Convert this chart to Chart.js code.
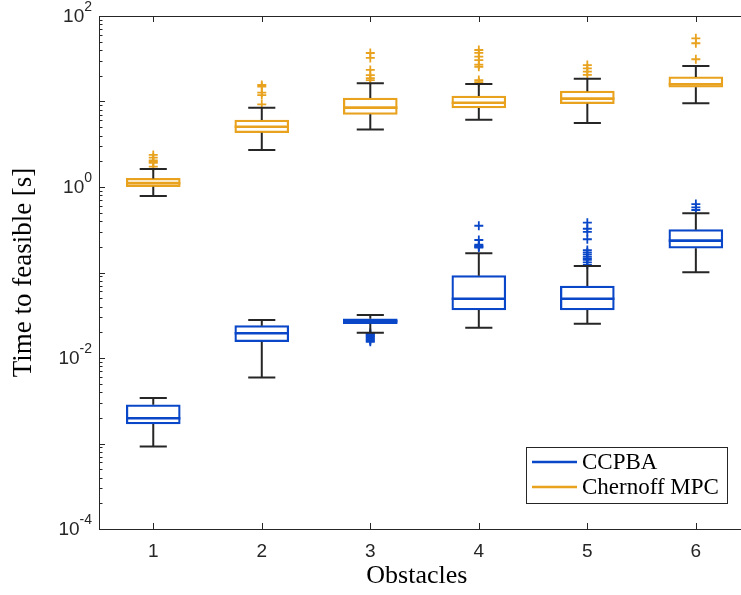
<!DOCTYPE html>
<html>
<head>
<meta charset="utf-8">
<script src="https://cdn.jsdelivr.net/npm/chart.js@4.4.0/dist/chart.umd.min.js"></script>
<style>
  html, body { margin: 0; padding: 0; background: #fff; }
  #wrap { width: 741px; height: 595px; }
</style>
</head>
<body>
<div id="wrap"><canvas id="c" width="741" height="595"></canvas></div>
<script>
const obstacles = [1, 2, 3, 4, 5, 6];
const yTicks = [1e-4, 1e-2, 1, 1e2];

// CCPBA (blau)
const ccpbaLow = [0.00092, 0.0059, 0.0198, 0.0226, 0.0252, 0.1005];
const ccpbaQ1 = [0.00169, 0.0155, 0.0252, 0.0364, 0.0364, 0.192];
const ccpbaMed = [0.00197, 0.0195, 0.0269, 0.0494, 0.0494, 0.236];
const ccpbaQ3 = [0.00284, 0.0239, 0.0288, 0.0918, 0.0695, 0.317];
const ccpbaHigh = [0.0034, 0.0278, 0.0318, 0.168, 0.119, 0.492];
const ccpbaOut = [
  [],
  [],
  [0.0196, 0.019, 0.0185, 0.018, 0.0175, 0.017, 0.0165, 0.016, 0.0155],
  [0.352, 0.24, 0.212, 0.205, 0.2, 0.196],
  [0.383, 0.325, 0.298, 0.245, 0.183, 0.172, 0.163, 0.153, 0.146, 0.141, 0.131, 0.123],
  [0.632, 0.578, 0.538]
];

// Chernoff MPC (orange)
const chernLow = [0.785, 2.71, 4.69, 6.12, 5.6, 9.53];
const chernQ1 = [1.01, 4.31, 7.08, 8.39, 9.43, 14.7];
const chernMed = [1.11, 5.07, 8.47, 9.68, 10.8, 15.9];
const chernQ3 = [1.26, 6.08, 11.0, 11.6, 13.2, 19.4];
const chernHigh = [1.62, 8.47, 16.3, 16.0, 18.5, 26.0];
const chernOut = [
  [2.37, 2.2, 2.05, 1.98, 1.92, 1.73],
  [15.6, 14.9, 12.7, 11.9, 9.27],
  [36.9, 32.3, 23.4, 20.4, 18.8, 17.8],
  [40, 37, 33.5, 30.5, 27, 25.5, 17.8, 16.8],
  [26.7, 24.4, 22.3, 20.5],
  [54.8, 48, 31.2]
];

const ccpbaColor = '#0a47c8';
const chernColor = '#e8a21e';
const axisColor = '#262626';
const boxHalf = 0.25;
const capHalf = 0.125;

const groups = [
  { name: 'CCPBA', color: ccpbaColor, low: ccpbaLow, q1: ccpbaQ1, med: ccpbaMed, q3: ccpbaQ3, high: ccpbaHigh, out: ccpbaOut },
  { name: 'Chernoff MPC', color: chernColor, low: chernLow, q1: chernQ1, med: chernMed, q3: chernQ3, high: chernHigh, out: chernOut }
];

const boxDatasets = groups.map(g => ({
  type: 'bar',
  label: g.name,
  data: obstacles.map((o, i) => ({ x: o, y: [g.q1[i], g.q3[i]] })),
  backgroundColor: 'rgba(255,255,255,0)',
  borderColor: g.color,
  borderWidth: 1.6,
  borderSkipped: false,
  barThickness: 54,
  grouped: false,
  order: 2
}));

const outlierDatasets = groups.map(g => ({
  type: 'scatter',
  label: g.name + ' outliers',
  data: g.out.flatMap((vals, i) => vals.map(v => ({ x: obstacles[i], y: v }))),
  pointStyle: 'cross',
  pointRadius: 4.5,
  borderWidth: 1.8,
  borderColor: g.color,
  backgroundColor: g.color,
  order: 1
}));

// whiskers, caps, medians
const boxParts = {
  id: 'boxParts',
  afterDatasetsDraw(chart) {
    const { ctx, scales: { x, y } } = chart;
    ctx.save();
    groups.forEach(g => {
      obstacles.forEach((o, i) => {
        const cx = x.getPixelForValue(o);
        ctx.strokeStyle = axisColor;
        ctx.lineWidth = 2;
        ctx.beginPath();
        ctx.moveTo(cx, y.getPixelForValue(g.q3[i]));
        ctx.lineTo(cx, y.getPixelForValue(g.high[i]));
        ctx.moveTo(cx, y.getPixelForValue(g.q1[i]));
        ctx.lineTo(cx, y.getPixelForValue(g.low[i]));
        ctx.moveTo(x.getPixelForValue(o - capHalf), y.getPixelForValue(g.high[i]));
        ctx.lineTo(x.getPixelForValue(o + capHalf), y.getPixelForValue(g.high[i]));
        ctx.moveTo(x.getPixelForValue(o - capHalf), y.getPixelForValue(g.low[i]));
        ctx.lineTo(x.getPixelForValue(o + capHalf), y.getPixelForValue(g.low[i]));
        ctx.stroke();
        ctx.strokeStyle = g.color;
        ctx.lineWidth = 2.6;
        ctx.beginPath();
        ctx.moveTo(x.getPixelForValue(o - boxHalf), y.getPixelForValue(g.med[i]));
        ctx.lineTo(x.getPixelForValue(o + boxHalf), y.getPixelForValue(g.med[i]));
        ctx.stroke();
      });
    });
    ctx.restore();
  }
};

// matlab style axes: inward ticks, top line, log labels, legend
const matlabAxes = {
  id: 'matlabAxes',
  afterDraw(chart) {
    const { ctx, chartArea: a, scales: { x, y } } = chart;
    const W = chart.width;
    ctx.save();
    ctx.strokeStyle = axisColor;
    ctx.lineWidth = 1;
    ctx.beginPath();
    ctx.moveTo(a.left, a.top + 0.5);
    ctx.lineTo(W, a.top + 0.5);
    ctx.moveTo(a.right, a.bottom + 0.5);
    ctx.lineTo(W, a.bottom + 0.5);
    for (let d = -4; d <= 2; d++) {
      const py = Math.round(y.getPixelForValue(Math.pow(10, d))) + 0.5;
      ctx.moveTo(a.left, py);
      ctx.lineTo(a.left + 6, py);
      if (d < 2) {
        for (let k = 2; k <= 9; k++) {
          const pm = Math.round(y.getPixelForValue(k * Math.pow(10, d))) + 0.5;
          ctx.moveTo(a.left, pm);
          ctx.lineTo(a.left + 3.5, pm);
        }
      }
    }
    obstacles.forEach(o => {
      const px = Math.round(x.getPixelForValue(o)) + 0.5;
      ctx.moveTo(px, a.bottom);
      ctx.lineTo(px, a.bottom - 6);
      ctx.moveTo(px, a.top);
      ctx.lineTo(px, a.top + 6);
    });
    ctx.stroke();

    // y tick labels 10^n
    ctx.fillStyle = axisColor;
    ctx.textBaseline = 'middle';
    yTicks.forEach(v => {
      const py = y.getPixelForValue(v);
      const ex = String(Math.round(Math.log10(v)));
      ctx.font = '14px "Liberation Sans", Arial, sans-serif';
      const ew = ctx.measureText(ex).width;
      ctx.textAlign = 'left';
      ctx.fillText(ex, 92 - ew, py - 9);
      ctx.font = '19px "Liberation Sans", Arial, sans-serif';
      ctx.textAlign = 'right';
      ctx.fillText('10', 92 - ew, py + 1);
    });

    // legend
    const lw = 201, lh = 56;
    const lx = W - 14 - lw, ly = a.bottom - 26 - lh;
    ctx.fillStyle = '#fff';
    ctx.fillRect(lx, ly, lw, lh);
    ctx.strokeStyle = axisColor;
    ctx.lineWidth = 1;
    ctx.strokeRect(lx + 0.5, ly + 0.5, lw, lh);
    groups.forEach((g, i) => {
      const ty = ly + 15 + i * 25;
      ctx.strokeStyle = g.color;
      ctx.lineWidth = 2.6;
      ctx.beginPath();
      ctx.moveTo(lx + 6, ty);
      ctx.lineTo(lx + 51, ty);
      ctx.stroke();
      ctx.fillStyle = '#000';
      ctx.font = '23px "Liberation Serif", "Times New Roman", serif';
      ctx.textAlign = 'left';
      ctx.textBaseline = 'middle';
      ctx.fillText(g.name, lx + 56, ty + 1);
    });
    ctx.restore();
  }
};

new Chart(document.getElementById('c'), {
  type: 'bar',
  data: { datasets: [...boxDatasets, ...outlierDatasets] },
  options: {
    responsive: false,
    animation: false,
    layout: { padding: { top: 16, right: 0, left: 0, bottom: 0 } },
    plugins: { legend: { display: false }, tooltip: { enabled: false } },
    scales: {
      x: {
        type: 'linear',
        offset: false,
        min: 0.5,
        max: 6.358,
        afterBuildTicks: s => { s.ticks = obstacles.map(v => ({ value: v })); },
        afterFit: s => { s.height = 66; },
        grid: { display: false, drawTicks: false },
        border: { display: true, color: axisColor, width: 1 },
        ticks: {
          padding: 11,
          color: axisColor,
          font: { family: '"Liberation Sans", Arial, sans-serif', size: 19 },
          callback: v => String(v)
        },
        title: {
          display: true,
          text: 'Obstacles',
          color: '#000',
          padding: { top: 0, bottom: 3 },
          font: { family: '"Liberation Serif", "Times New Roman", serif', size: 26 }
        }
      },
      y: {
        type: 'logarithmic',
        min: 1e-4,
        max: 1e2,
        afterFit: s => { s.width = 99; },
        grid: { display: false, drawTicks: false },
        border: { display: true, color: axisColor, width: 1 },
        ticks: { display: false },
        title: {
          display: true,
          text: 'Time to feasible [s]',
          color: '#000',
          padding: { top: 8, bottom: 0 },
          font: { family: '"Liberation Serif", "Times New Roman", serif', size: 27 }
        }
      }
    }
  },
  plugins: [boxParts, matlabAxes]
});
</script>
</body>
</html>
